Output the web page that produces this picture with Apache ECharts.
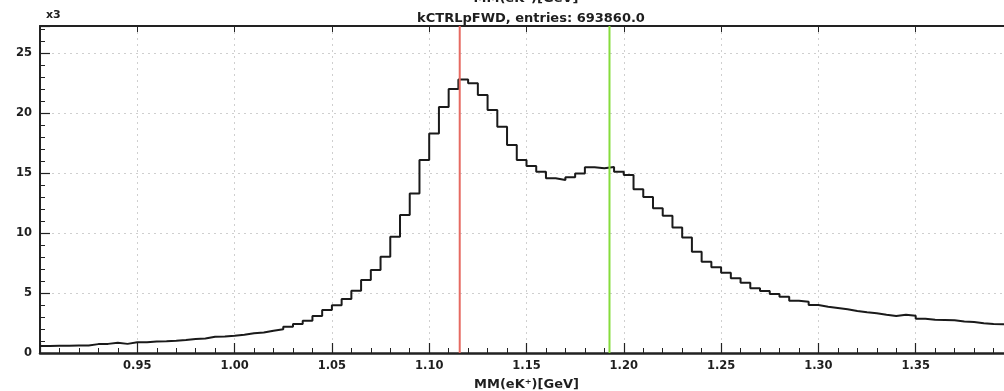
<!DOCTYPE html>
<html>
<head>
<meta charset="utf-8">
<script src="https://cdn.jsdelivr.net/npm/echarts@6/dist/echarts.min.js"></script>
<style>
html,body{margin:0;padding:0;background:#fff;}
#c{width:1004px;height:391px;}
</style>
</head>
<body>
<div id="c"></div>
<script>
// Histogram: 100 bins from 0.90 to 1.40 GeV, counts in thousands (x3 = x10^3)
const binLow = 0.9;
const binWidth = 0.005;
const nBins = 100;
const counts = [
  0.58, 0.60, 0.61, 0.62, 0.63, 0.74, 0.76, 0.86, 0.76, 0.90,
  0.90, 0.95, 0.98, 1.02, 1.08, 1.17, 1.20, 1.36, 1.38, 1.44,
  1.53, 1.64, 1.70, 1.86, 1.97, 2.19, 2.42, 2.69, 3.08, 3.58,
  3.97, 4.50, 5.19, 6.08, 6.92, 8.03, 9.69, 11.5, 13.3, 16.08,
  18.3, 20.5, 22.0, 22.8, 22.47, 21.5, 20.25, 18.86, 17.33, 16.08,
  15.58, 15.11, 14.56, 14.42, 14.64, 14.95, 15.47, 15.39, 15.50, 15.11,
  14.83, 13.65, 13.0, 12.06, 11.43, 10.46, 9.62, 8.44, 7.61, 7.14,
  6.69, 6.22, 5.86, 5.39, 5.17, 4.92, 4.69, 4.36, 4.28, 4.00,
  3.86, 3.75, 3.64, 3.50, 3.39, 3.31, 3.19, 3.08, 3.19, 3.11,
  2.85, 2.78, 2.76, 2.72, 2.63, 2.58, 2.48, 2.42, 2.40, 2.38
];
const refMasses = [1.115683, 1.192642];
const refColors = ['#e66a62', '#86dc3c'];
const titleText = 'kCTRLpFWD, entries: 693860.0';
const xAxisTitle = 'MM(eK\u207A)[GeV]';
const yScaleText = 'x3';
const xMin = 0.9, xMax = 1.4, xStep = 0.05;
const yMin = 0, yMax = 27.25, yStep = 5;

const stepData = counts.map((v, i) => [binLow + i * binWidth, v]);
stepData.push([binLow + nBins * binWidth, counts[counts.length - 1]]);

const FONT = 'DejaVu Sans';
const txt = '#1e1e1e';

const refSeries = refMasses.map((m, k) => ({
  type: 'line', data: [[m, yMin], [m, yMax]], symbol: 'none', z: 4, clip: true,
  lineStyle: { color: refColors[k], width: 2 }
}));

const chart = echarts.init(document.getElementById('c'), null, { renderer: 'canvas' });
chart.setOption({
  animation: false,
  backgroundColor: '#ffffff',
  grid: { left: 40, top: 26, width: 973, height: 327, containLabel: false, outerBoundsMode: 'none' },
  title: {
    text: titleText,
    left: 526, top: 7, textAlign: 'center',
    textStyle: { fontFamily: FONT, fontSize: 13, fontWeight: 'bold', color: txt }
  },
  graphic: [
    { type: 'text', left: 46, top: 10,
      style: { text: yScaleText, fontFamily: FONT, fontSize: 11, fontWeight: 'bold', fill: txt } },
    { type: 'text', x: 526, y: -1,
      style: { text: xAxisTitle, fontFamily: FONT, fontSize: 13, fontWeight: 'bold', fill: txt,
               textAlign: 'center', textVerticalAlign: 'middle' } }
  ],
  xAxis: [
    {
      type: 'value', min: xMin, max: xMax, interval: xStep, position: 'bottom',
      name: xAxisTitle, nameLocation: 'middle', nameGap: 25,
      nameTextStyle: { fontFamily: FONT, fontSize: 13, fontWeight: 'bold', color: txt },
      axisLine: { show: true, onZero: false, lineStyle: { color: '#222', width: 2.5 } },
      axisTick: { show: true, inside: true, length: 10, lineStyle: { color: '#222', width: 1.2 } },
      minorTick: { show: true, splitNumber: 5, length: 5, lineStyle: { color: '#222', width: 1 } },
      axisLabel: { showMinLabel: false, showMaxLabel: false, margin: 7,
        fontFamily: FONT, fontSize: 11.5, fontWeight: 'bold', color: txt,
        formatter: v => v.toFixed(2) },
      splitLine: { show: true, lineStyle: { color: '#cfcfcf', type: [2, 4], width: 1 } }
    },
    {
      type: 'value', min: xMin, max: xMax, interval: xStep, position: 'top',
      axisLine: { show: true, onZero: false, lineStyle: { color: '#222', width: 2 } },
      axisTick: { show: true, inside: true, length: 6, lineStyle: { color: '#222', width: 1 } },
      axisLabel: { show: false },
      splitLine: { show: false }
    }
  ],
  yAxis: {
    type: 'value', min: yMin, max: yMax, interval: yStep,
    axisLine: { show: true, onZero: false, lineStyle: { color: '#222', width: 2 } },
    axisTick: { show: true, inside: true, length: 10, lineStyle: { color: '#222', width: 1.2 } },
    minorTick: { show: true, splitNumber: 5, length: 5, lineStyle: { color: '#222', width: 1 } },
    axisLabel: { margin: 8, fontFamily: FONT, fontSize: 11.5, fontWeight: 'bold', color: txt,
      showMaxLabel: false },
    splitLine: { show: true, lineStyle: { color: '#cfcfcf', type: [2, 4], width: 1 } }
  },
  series: [
    {
      type: 'line', step: 'end', data: stepData, symbol: 'none', clip: true,
      lineStyle: { color: '#1a1a1a', width: 2 }, z: 3
    }
  ].concat(refSeries)
});
</script>
</body>
</html>
